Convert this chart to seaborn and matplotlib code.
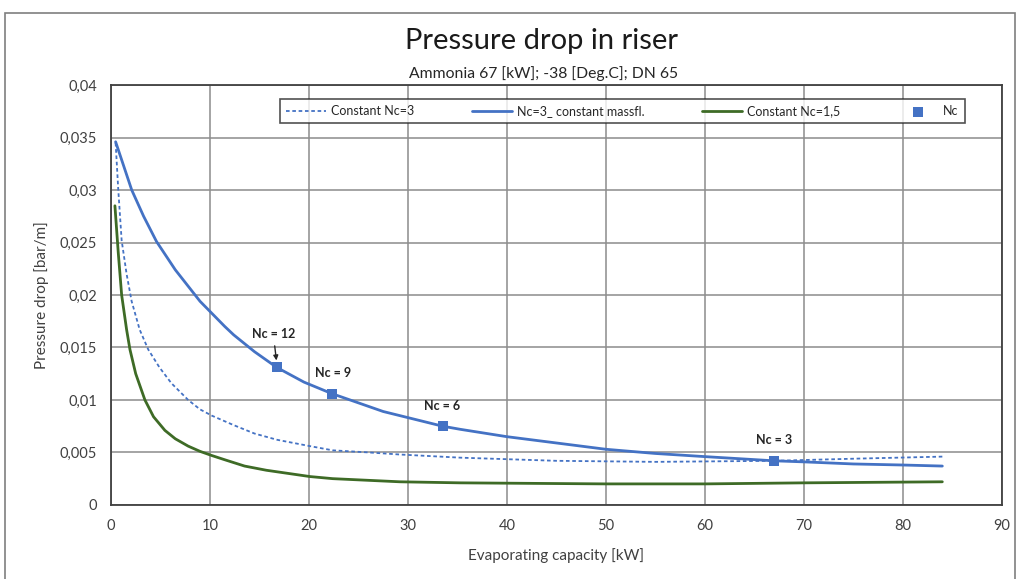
import numpy as np
import pandas as pd
import matplotlib
matplotlib.use("Agg")
import matplotlib.pyplot as plt
import seaborn as sns
from matplotlib.patches import Rectangle

# Values
cap_massfl = [0.47, 2.1, 3.3, 4.6, 6.5, 8.5, 9.0, 11.5, 12.4, 14.5, 16.75, 19.5, 22.33, 27.5, 33.5, 35.3,
              40.0, 45.0, 50.0, 55.0, 60.0, 67.0, 70.0, 75.0, 80.0, 84.0]
dp_massfl = [0.0346, 0.0300, 0.0275, 0.0251, 0.0224, 0.0200, 0.0194, 0.0170, 0.0162, 0.0146, 0.0131, 0.0117,
             0.0106, 0.0089, 0.0075, 0.0072, 0.0065, 0.0059, 0.0053, 0.0049, 0.0046, 0.0042, 0.0041, 0.0039,
             0.0038, 0.0037]

cap_nc3 = [0.47, 0.74, 1.08, 1.58, 2.09, 2.9, 3.77, 4.9, 6.1, 7.8, 9.0, 10.2, 12.4, 14.5, 16.8, 20.1, 22.4,
           26.0, 29.2, 35.3, 45.0, 55.0, 67.0, 75.0, 84.0]
dp_nc3 = [0.0345, 0.0300, 0.0252, 0.0220, 0.0194, 0.0167, 0.0148, 0.0131, 0.0116, 0.0100, 0.0091, 0.0085,
          0.0076, 0.0068, 0.0062, 0.0056, 0.0052, 0.0050, 0.0048, 0.0045, 0.0042, 0.0041, 0.0042, 0.0044,
          0.0046]

cap_nc15 = [0.4, 0.74, 1.08, 1.58, 1.92, 2.5, 3.43, 4.3, 5.45, 6.5, 7.8, 9.0, 10.2, 11.5, 13.5, 15.7,
            20.1, 22.4, 29.2, 35.3, 50.0, 60.0, 70.0, 84.0]
dp_nc15 = [0.0285, 0.0240, 0.0200, 0.0167, 0.0148, 0.0125, 0.0100, 0.0084, 0.0071, 0.0063, 0.0056, 0.0051,
           0.0047, 0.0043, 0.0037, 0.0033, 0.0027, 0.0025, 0.0022, 0.0021, 0.0020, 0.0020, 0.0021, 0.0022]

nc_cap = [16.75, 22.33, 33.5, 67.0]
nc_dp = [0.0131, 0.0106, 0.0075, 0.0042]
nc_labels = ["Nc = 12", "Nc = 9", "Nc = 6", "Nc = 3"]
nc_label_pos = [(16.4, 0.0163), (22.4, 0.0126), (33.5, 0.0094), (67.0, 0.0062)]

x_ticks = [0, 10, 20, 30, 40, 50, 60, 70, 80, 90]
y_ticks = [0, 0.005, 0.01, 0.015, 0.02, 0.025, 0.03, 0.035, 0.04]
y_tick_labels = ["0", "0,005", "0,01", "0,015", "0,02", "0,025", "0,03", "0,035", "0,04"]

blue = "#4472C4"
green = "#3E6B26"
text_col = "#404040"

sns.set_style("white")
plt.rcParams['font.family'] = ['Lato', 'DejaVu Sans']
plt.rcParams['lines.solid_joinstyle'] = 'round'
plt.rcParams['lines.dash_joinstyle'] = 'round'

fig = plt.figure(figsize=(10.18, 5.79), dpi=100)
ax = fig.add_axes([0.109, 0.128, 0.875, 0.725])

# outer chart border
fig.patches.append(Rectangle((0.005, -0.01), 0.992, 0.988, transform=fig.transFigure,
                             fill=False, edgecolor="#7f7f7f", linewidth=1.2))

sns.lineplot(x=cap_nc3, y=dp_nc3, ax=ax, color=blue, linewidth=1.3,
             linestyle=(0, (2, 1.5)), label="Constant Nc=3", sort=False)
sns.lineplot(x=cap_massfl, y=dp_massfl, ax=ax, color=blue, linewidth=2,
             label="Nc=3_ constant massfl.", sort=False)
sns.lineplot(x=cap_nc15, y=dp_nc15, ax=ax, color=green, linewidth=2,
             label="Constant Nc=1,5", sort=False)
sns.scatterplot(x=nc_cap, y=nc_dp, ax=ax, color=blue, marker="s", s=55,
                edgecolor=blue, linewidth=0, label="Nc", zorder=5)

for lab, (px, py), (tx, ty) in zip(nc_labels, zip(nc_cap, nc_dp), nc_label_pos):
    if lab == "Nc = 12":
        ax.annotate(lab, xy=(px, py + 0.0004), xytext=(tx, ty), ha="center", va="center",
                    fontsize=9, fontweight="bold", color="#262626",
                    arrowprops=dict(arrowstyle="-|>", color="#262626", lw=1, mutation_scale=7))
    else:
        ax.text(tx, ty, lab, ha="center", va="center", fontsize=9,
                fontweight="bold", color="#262626")

ax.set_xlim(0, 90)
ax.set_ylim(0, 0.04)
ax.set_xticks(x_ticks)
ax.set_yticks(y_ticks)
ax.set_yticklabels(y_tick_labels)
ax.grid(True, color="#8c8c8c", linewidth=1.1)
ax.set_axisbelow(True)
for s in ax.spines.values():
    s.set_color("#404040")
    s.set_linewidth(1.3)
ax.tick_params(axis="both", labelsize=10.5, colors=text_col, length=4, width=1,
               direction="out", pad=6)
ax.tick_params(axis="x", length=0, pad=10)

ax.set_xlabel("Evaporating capacity [kW]", fontsize=11, color=text_col, labelpad=11)
ax.set_ylabel("Pressure drop [bar/m]", fontsize=11, color=text_col, labelpad=8)

fig.text(0.532, 0.93, "Pressure drop in riser", ha="center", va="center",
         fontsize=21, color="#1a1a1a")
fig.text(0.534, 0.873, "Ammonia 67 [kW]; -38 [Deg.C]; DN 65", ha="center", va="center",
         fontsize=11.3, color="#262626")

leg = ax.legend(loc="center", bbox_to_anchor=(0.574, 0.938), ncol=4, frameon=True,
                fancybox=False, edgecolor="#262626", fontsize=9, handlelength=3.2,
                columnspacing=4.6, borderpad=0.5, handletextpad=0.4)
leg.get_frame().set_linewidth(1.2)
for t in leg.get_texts():
    t.set_color("#262626")

fig.savefig("out.png", dpi=100)
